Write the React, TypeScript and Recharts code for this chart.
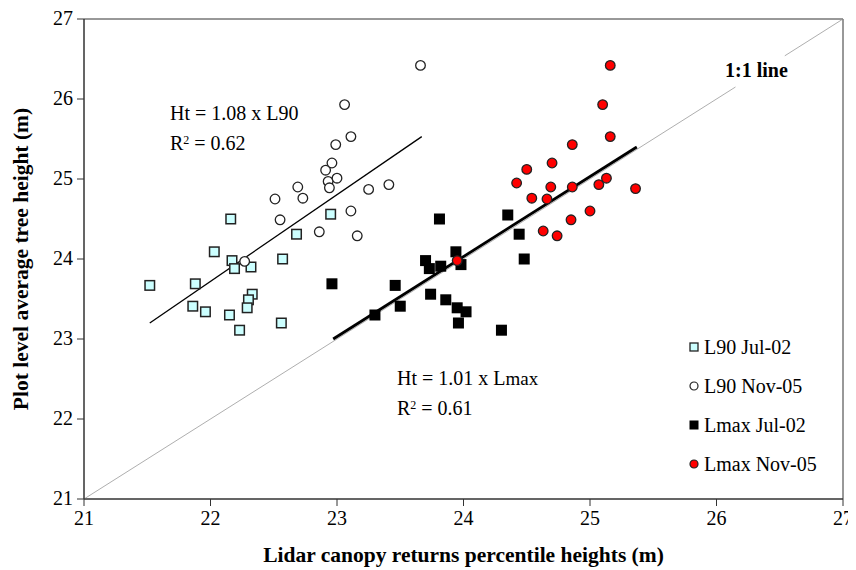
import { ScatterChart, Scatter, XAxis, YAxis, ReferenceLine, ReferenceArea, Label } from "recharts"

const TICKS = [21, 22, 23, 24, 25, 26, 27]

const l90Jul02 = [
  { x: 21.52, y: 23.67 }, { x: 21.88, y: 23.69 }, { x: 21.86, y: 23.41 }, { x: 21.96, y: 23.34 },
  { x: 22.03, y: 24.09 }, { x: 22.16, y: 24.5 }, { x: 22.17, y: 23.98 }, { x: 22.19, y: 23.88 },
  { x: 22.15, y: 23.3 }, { x: 22.23, y: 23.11 }, { x: 22.32, y: 23.9 }, { x: 22.33, y: 23.56 },
  { x: 22.3, y: 23.49 }, { x: 22.29, y: 23.39 }, { x: 22.56, y: 23.2 }, { x: 22.57, y: 24.0 },
  { x: 22.68, y: 24.31 }, { x: 22.95, y: 24.56 },
]

const l90Nov05 = [
  { x: 22.27, y: 23.97 }, { x: 22.51, y: 24.75 }, { x: 22.55, y: 24.49 }, { x: 22.69, y: 24.9 },
  { x: 22.73, y: 24.76 }, { x: 22.86, y: 24.34 }, { x: 22.91, y: 25.11 }, { x: 22.93, y: 24.97 },
  { x: 22.94, y: 24.89 }, { x: 22.96, y: 25.2 }, { x: 22.99, y: 25.43 }, { x: 23.0, y: 25.01 },
  { x: 23.06, y: 25.93 }, { x: 23.11, y: 25.53 }, { x: 23.11, y: 24.6 }, { x: 23.16, y: 24.29 },
  { x: 23.25, y: 24.87 }, { x: 23.41, y: 24.93 }, { x: 23.66, y: 26.42 },
]

const lmaxJul02 = [
  { x: 22.96, y: 23.69 }, { x: 23.3, y: 23.3 }, { x: 23.46, y: 23.67 }, { x: 23.5, y: 23.41 },
  { x: 23.7, y: 23.98 }, { x: 23.73, y: 23.88 }, { x: 23.74, y: 23.56 }, { x: 23.82, y: 23.91 },
  { x: 23.81, y: 24.5 }, { x: 23.86, y: 23.49 }, { x: 23.94, y: 24.09 }, { x: 23.95, y: 23.39 },
  { x: 23.98, y: 23.93 }, { x: 23.96, y: 23.2 }, { x: 24.02, y: 23.34 }, { x: 24.3, y: 23.11 },
  { x: 24.35, y: 24.55 }, { x: 24.44, y: 24.31 }, { x: 24.48, y: 24.0 },
]

const lmaxNov05 = [
  { x: 23.95, y: 23.98 }, { x: 24.42, y: 24.95 }, { x: 24.5, y: 25.12 }, { x: 24.54, y: 24.76 },
  { x: 24.63, y: 24.35 }, { x: 24.66, y: 24.75 }, { x: 24.69, y: 24.9 }, { x: 24.7, y: 25.2 },
  { x: 24.74, y: 24.29 }, { x: 24.85, y: 24.49 }, { x: 24.86, y: 24.9 }, { x: 24.86, y: 25.43 },
  { x: 25.0, y: 24.6 }, { x: 25.07, y: 24.93 }, { x: 25.1, y: 25.93 }, { x: 25.13, y: 25.01 },
  { x: 25.16, y: 25.53 }, { x: 25.16, y: 26.42 }, { x: 25.36, y: 24.88 },
]

// fitted lines and the 1:1 line (split around its label)
const fitL90 = [{ x: 21.52, y: 23.2 }, { x: 23.67, y: 25.53 }]
const fitLmax = [{ x: 22.97, y: 23.0 }, { x: 25.37, y: 25.4 }]
const oneToOneA = [{ x: 21, y: 21 }, { x: 26.15, y: 26.15 }]
const oneToOneB = [{ x: 26.54, y: 26.54 }, { x: 27, y: 27 }]

const FONT = "'Liberation Serif', 'Times New Roman', serif"

const square = (fill: string, s: number, sw: number) => (p: any) => (
  <rect x={p.cx - s / 2} y={p.cy - s / 2} width={s} height={s} fill={fill} stroke="#222" strokeWidth={sw} />
)
const circle = (fill: string, r = 4.8) => (p: any) => (
  <circle cx={p.cx} cy={p.cy} r={r} fill={fill} stroke="#222" strokeWidth={1.3} />
)

const XTick = (p: any) => (
  <text x={p.x} y={p.y} dy={15} textAnchor="middle" style={{ fontFamily: FONT }} fontSize={20} fill="#000">
    {p.payload.value}
  </text>
)
const YTick = (p: any) => (
  <text x={p.x} y={p.y} dy={6} textAnchor="end" style={{ fontFamily: FONT }} fontSize={20} fill="#000">
    {p.payload.value}
  </text>
)

const legendItems = [
  { name: "L90 Jul-02", icon: <rect x={1} y={1} width={8} height={8} fill="#ccffff" stroke="#222" strokeWidth={1.3} /> },
  { name: "L90 Nov-05", icon: <circle cx={5} cy={5} r={4} fill="#fff" stroke="#222" strokeWidth={1.2} /> },
  { name: "Lmax Jul-02", icon: <rect x={1} y={1} width={8} height={8} fill="#000" stroke="#000" /> },
  { name: "Lmax Nov-05", icon: <circle cx={5} cy={5} r={4} fill="#ff0000" stroke="#222" strokeWidth={1.2} /> },
]

const txt: React.CSSProperties = { position: "absolute", fontFamily: FONT, fontSize: 20, lineHeight: "20px", color: "#000", whiteSpace: "nowrap" }
const sup: React.CSSProperties = { fontSize: 12, verticalAlign: "top", position: "relative", top: -3 }

export default function App() {
  return (
    <div style={{ position: "relative", width: 848, height: 562, fontFamily: FONT }}>
      <style>{`.recharts-wrapper, .recharts-surface { overflow: visible !important; }`}</style>
      <ScatterChart width={848} height={562} margin={{ top: 11, right: 13, left: 0, bottom: 0 }}>
        <XAxis
          type="number"
          dataKey="x"
          domain={[21, 27]}
          ticks={TICKS}
          height={71}
          tickSize={7}
          tickMargin={4}
          stroke="#333"
          tick={<XTick />}
        >
          <Label value="Lidar canopy returns percentile heights (m)" position="insideBottom" offset={8}
            style={{ fontFamily: FONT, fontSize: 21.5, fontWeight: "bold", fill: "#000" }} />
        </XAxis>
        <YAxis
          type="number"
          dataKey="y"
          domain={[21, 27]}
          ticks={TICKS}
          width={76}
          tickSize={7}
          tickMargin={4}
          stroke="#333"
          tick={<YTick />}
        >
          <Label value="Plot level average tree height (m)" angle={-90} position="insideLeft" offset={12}
            style={{ fontFamily: FONT, fontSize: 21.5, fontWeight: "bold", fill: "#000", textAnchor: "middle" }} />
        </YAxis>
        <ReferenceArea x1={21} x2={27} y1={21} y2={27} fill="none" stroke="#333" strokeWidth={1} />
        <ReferenceLine segment={oneToOneA} stroke="#999" strokeWidth={0.8} />
        <ReferenceLine segment={oneToOneB} stroke="#999" strokeWidth={0.8} />
        <ReferenceLine segment={fitL90} stroke="#000" strokeWidth={1.3} />
        <ReferenceLine segment={fitLmax} stroke="#000" strokeWidth={2.8} />
        <Scatter data={l90Jul02} shape={square("#ccffff", 9.5, 1.5)} isAnimationActive={false} />
        <Scatter data={l90Nov05} shape={circle("#fff")} isAnimationActive={false} />
        <Scatter data={lmaxJul02} shape={square("#000", 11, 0)} isAnimationActive={false} />
        <Scatter data={lmaxNov05} shape={circle("#ff0000")} isAnimationActive={false} />
      </ScatterChart>

      <div style={{ ...txt, left: 162, top: 95 }}>Ht = 1.08 x L90</div>
      <div style={{ ...txt, left: 162, top: 125 }}>R<sup style={sup}>2</sup> = 0.62</div>
      <div style={{ ...txt, left: 389, top: 360 }}>Ht = 1.01 x L<span style={{ fontSize: 19 }}>max</span></div>
      <div style={{ ...txt, left: 389, top: 390 }}>R<sup style={sup}>2</sup> = 0.61</div>
      <div style={{ ...txt, left: 717, top: 52, fontWeight: "bold" }}>1:1 line</div>

      {legendItems.map((it, i) => (
        <div key={it.name} style={{ ...txt, left: 681, top: 329 + i * 39, display: "flex", alignItems: "center" }}>
          <svg width={10} height={10} style={{ marginRight: 5 }}>{it.icon}</svg>
          {it.name}
        </div>
      ))}
    </div>
  )
}
